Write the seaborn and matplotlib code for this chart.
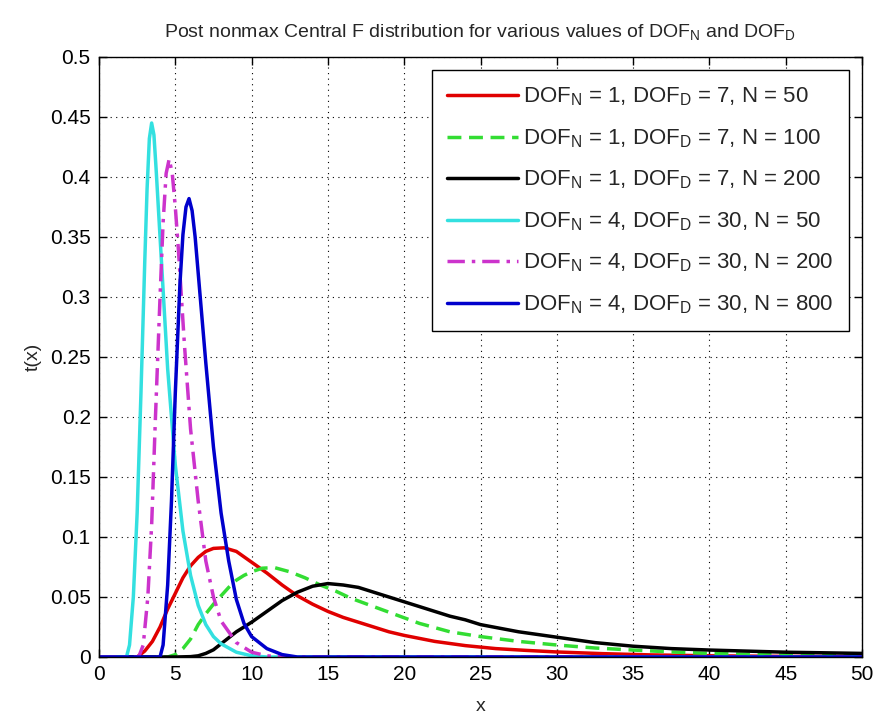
import matplotlib
matplotlib.use("Agg")
import matplotlib.pyplot as plt
import seaborn as sns
import pandas as pd

# ---- data ----
red_x = [0, 2.5, 3, 3.5, 4, 4.5, 5, 5.5, 6, 6.5, 7, 7.5, 8.2, 9, 10, 11, 12, 13, 14, 15, 16, 17.5, 19, 20, 22, 24, 26, 28, 30, 33, 36, 40, 45, 50]
red_y = [0, 0, 0.005, 0.013, 0.025, 0.04, 0.053, 0.066, 0.076, 0.083, 0.088, 0.0905, 0.091, 0.088, 0.079, 0.07, 0.06, 0.051, 0.044, 0.038, 0.033, 0.027, 0.021, 0.018, 0.013, 0.0095, 0.007, 0.0055, 0.0042, 0.0028, 0.0018, 0.001, 0.0005, 0.0003]

green_x = [0, 4.5, 5, 5.5, 6, 6.5, 7, 7.5, 8, 8.5, 9, 9.5, 10, 10.7, 11.5, 12.5, 13.5, 14.5, 15.5, 16.5, 18, 19.5, 21, 23, 25, 27.5, 30, 32.5, 35, 37.5, 40, 45, 50]
green_y = [0, 0, 0.002, 0.007, 0.015, 0.027, 0.036, 0.044, 0.051, 0.058, 0.064, 0.068, 0.071, 0.074, 0.0745, 0.071, 0.066, 0.06, 0.055, 0.049, 0.042, 0.035, 0.028, 0.021, 0.017, 0.013, 0.01, 0.0075, 0.0058, 0.0042, 0.003, 0.0016, 0.001]

black_x = [0, 5, 6, 6.5, 7, 7.5, 8, 8.5, 9, 10, 11, 12, 13, 14, 15, 16, 17, 18, 19, 20, 21, 22, 23, 24, 25, 27.5, 30, 32.5, 35, 37.5, 40, 45, 50]
black_y = [0, 0, 0.0003, 0.001, 0.003, 0.006, 0.011, 0.016, 0.021, 0.029, 0.038, 0.047, 0.054, 0.059, 0.0612, 0.06, 0.058, 0.054, 0.05, 0.046, 0.042, 0.038, 0.034, 0.031, 0.027, 0.021, 0.0165, 0.012, 0.009, 0.007, 0.0058, 0.004, 0.003]

cyan_x = [0, 1.8, 2.0, 2.25, 2.5, 2.75, 3.0, 3.15, 3.3, 3.45, 3.6, 3.75, 4.0, 4.5, 5.0, 5.5, 6.0, 6.5, 7.0, 7.5, 8, 9, 10, 11, 50]
cyan_y = [0, 0, 0.01, 0.05, 0.12, 0.22, 0.33, 0.39, 0.432, 0.445, 0.435, 0.405, 0.35, 0.24, 0.16, 0.105, 0.068, 0.043, 0.027, 0.017, 0.011, 0.004, 0.001, 0, 0]

magenta_x = [0, 2.6, 2.9, 3.2, 3.45, 3.7, 4.0, 4.2, 4.4, 4.6, 4.8, 5.0, 5.2, 5.6, 6.0, 6.5, 7.0, 7.5, 8.0, 9, 10, 11, 12, 50]
magenta_y = [0, 0, 0.01, 0.05, 0.11, 0.2, 0.3, 0.362, 0.403, 0.415, 0.403, 0.375, 0.34, 0.26, 0.19, 0.13, 0.08, 0.05, 0.03, 0.012, 0.004, 0.001, 0, 0]

blue_x = [0, 4.0, 4.2, 4.5, 4.75, 5.0, 5.3, 5.5, 5.7, 5.9, 6.1, 6.3, 6.5, 7.0, 7.5, 8.0, 8.5, 9.0, 9.5, 10, 11, 12, 13, 50]
blue_y = [0, 0, 0.01, 0.06, 0.13, 0.22, 0.31, 0.352, 0.375, 0.382, 0.372, 0.35, 0.32, 0.245, 0.175, 0.12, 0.08, 0.048, 0.028, 0.017, 0.007, 0.002, 0, 0]

labels = [
    r"DOF$_{\mathregular{N}}$ = 1, DOF$_{\mathregular{D}}$ = 7, N = 50",
    r"DOF$_{\mathregular{N}}$ = 1, DOF$_{\mathregular{D}}$ = 7, N = 100",
    r"DOF$_{\mathregular{N}}$ = 1, DOF$_{\mathregular{D}}$ = 7, N = 200",
    r"DOF$_{\mathregular{N}}$ = 4, DOF$_{\mathregular{D}}$ = 30, N = 50",
    r"DOF$_{\mathregular{N}}$ = 4, DOF$_{\mathregular{D}}$ = 30, N = 200",
    r"DOF$_{\mathregular{N}}$ = 4, DOF$_{\mathregular{D}}$ = 30, N = 800",
]
x_ticks = [0, 5, 10, 15, 20, 25, 30, 35, 40, 45, 50]
y_ticks = [0, 0.05, 0.1, 0.15, 0.2, 0.25, 0.3, 0.35, 0.4, 0.45, 0.5]
y_tick_labels = ["0", "0.05", "0.1", "0.15", "0.2", "0.25", "0.3", "0.35", "0.4", "0.45", "0.5"]

sns.set_theme(style="white")
plt.rcParams["font.family"] = ["Liberation Sans Narrow", "Liberation Sans", "DejaVu Sans"]
plt.rcParams["mathtext.fontset"] = "custom"
plt.rcParams["mathtext.rm"] = "Liberation Sans"

fig = plt.figure(figsize=(8.8, 7.19), dpi=100)
ax = fig.add_axes([99 / 880, 1 - 657 / 719, (862 - 99) / 880, (657 - 57) / 719])

series = [
    (red_x, red_y, "#e00000", "-", labels[0]),
    (green_x, green_y, "#33dd33", (0, (4, 2.2)), labels[1]),
    (black_x, black_y, "black", "-", labels[2]),
    (cyan_x, cyan_y, "#33e0e0", "-", labels[3]),
    (magenta_x, magenta_y, "#cc33cc", (0, (5, 2, 1, 2)), labels[4]),
    (blue_x, blue_y, "#0000cc", "-", labels[5]),
]
for xs, ys, col, ls, lab in series:
    df = pd.DataFrame({"x": xs, "y": ys})
    sns.lineplot(data=df, x="x", y="y", ax=ax, color=col, lw=2.5, linestyle=ls,
                 label=lab, sort=False, estimator=None)

ax.set_xlim(0, 50)
ax.set_ylim(0, 0.5)
ax.set_xticks(x_ticks)
ax.set_xticklabels([str(v) for v in x_ticks])
ax.set_yticks(y_ticks)
ax.set_yticklabels(y_tick_labels)
ax.tick_params(direction="in", top=True, right=True, length=6, width=1, labelsize=15,
               colors="black", pad=6, bottom=True, left=True)
ax.grid(True, color="black", linestyle=(0, (1, 4)), linewidth=0.8)
for s in ax.spines.values():
    s.set_color("black")
    s.set_linewidth(1)

ax.set_xlabel("x", fontsize=14, labelpad=10)
ax.set_ylabel("t(x)", fontsize=14, labelpad=6)
ax.set_title(r"Post nonmax Central F distribution for various values of DOF$_{\mathregular{N}}$ and DOF$_{\mathregular{D}}$",
             fontsize=14, pad=14)

leg = ax.legend(loc="upper right", fontsize=16, frameon=True, fancybox=False, framealpha=1,
                edgecolor="black", handlelength=3.2, handletextpad=0.2, labelspacing=0.85,
                borderaxespad=0.6, borderpad=0.7)
leg.get_frame().set_linewidth(1)

fig.savefig("out.png", dpi=100, facecolor="white")
